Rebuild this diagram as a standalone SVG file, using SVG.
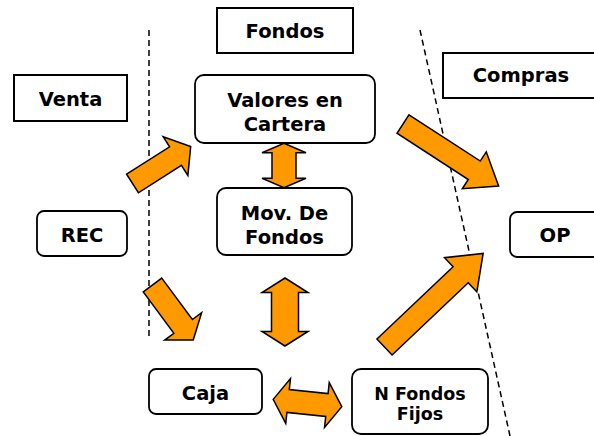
<svg xmlns="http://www.w3.org/2000/svg" width="594" height="436" viewBox="0 0 594 436">
<style>
.sq{fill:#fff;stroke:#000;stroke-width:2}
.rd{fill:#fff;stroke:#000;stroke-width:1.8}
.t{font-family:"DejaVu Sans","Verdana",sans-serif;font-weight:bold;font-size:19.5px;fill:#000;text-anchor:middle}
.ts{font-size:17.5px}
.ar{fill:#FF9900;stroke:#000;stroke-width:1.5;stroke-linejoin:miter}
.dash{fill:none;stroke:#000;stroke-width:1.5;stroke-dasharray:6 4}
</style>
<rect width="594" height="436" fill="#fff"/>
<g id="dividers">
<line class="dash" x1="149" y1="30" x2="149" y2="340"/>
<line class="dash" x1="420" y1="30" x2="510" y2="436"/>
</g>
<g id="connectors">
<path class="ar" transform="translate(132.5,183.5) rotate(-32.5)" d="M0,-11 H51 V-23 L69,0 L51,23 V11 H0 Z"/>
<path class="ar" transform="translate(403,124) rotate(33)" d="M0,-11 H85 V-22 L114,0 L85,22 V11 H0 Z"/>
<path class="ar" transform="translate(152.5,285) rotate(53.5)" d="M0,-11.5 H51.5 V-23 L68.5,0 L51.5,23 V11.5 H0 Z"/>
<path class="ar" transform="translate(384.5,347) rotate(-43.5)" d="M0,-11 H105 V-23.5 L136,0 L105,23.5 V11 H0 Z"/>
<path class="ar" transform="translate(284,165.5) rotate(90)" d="M-22.25,0 L-12.75,-22 V-12 H12.75 V-22 L22.25,0 L12.75,22 V12 H-12.75 V22 Z"/>
<path class="ar" transform="translate(285,312) rotate(90)" d="M-34,0 L-19.5,-23 V-13.5 H19.5 V-23 L34,0 L19.5,23 V13.5 H-19.5 V23 Z"/>
<path class="ar" transform="translate(307.5,403) rotate(6)" d="M-34.5,0 L-19.5,-22.5 V-11.5 H19.5 V-22.5 L34.5,0 L19.5,22.5 V11.5 H-19.5 V22.5 Z"/>
</g>
<g id="venta"><rect class="sq" x="14" y="75" width="113" height="46"/><text class="t" x="70.5" y="106">Venta</text></g>
<g id="fondos"><rect class="sq" x="217" y="8" width="136" height="45"/><text class="t" x="285" y="38">Fondos</text></g>
<g id="compras"><rect class="sq" x="443" y="53" width="160" height="45"/><text class="t" x="521" y="82">Compras</text></g>
<g id="valores"><rect class="rd" x="195" y="75" width="180" height="68" rx="9"/><text class="t" x="285" y="106.5">Valores en</text><text class="t" x="285" y="131">Cartera</text></g>
<g id="mov"><rect class="rd" x="217" y="188" width="135" height="67" rx="9"/><text class="t" x="284.5" y="219.5">Mov. De</text><text class="t" x="284.5" y="244">Fondos</text></g>
<g id="rec"><rect class="rd" x="37" y="211" width="90" height="45" rx="7"/><text class="t" x="82" y="241.5">REC</text></g>
<g id="op"><rect class="rd" x="510" y="212" width="95" height="45" rx="7"/><text class="t" x="555" y="241.5">OP</text></g>
<g id="caja"><rect class="rd" x="149" y="369" width="113" height="45" rx="7"/><text class="t" x="205.5" y="400">Caja</text></g>
<g id="nfondos"><rect class="rd" x="352" y="369" width="136" height="65" rx="9"/><text class="t ts" x="420" y="399.5">N Fondos</text><text class="t ts" x="420" y="420">Fijos</text></g>
</svg>
